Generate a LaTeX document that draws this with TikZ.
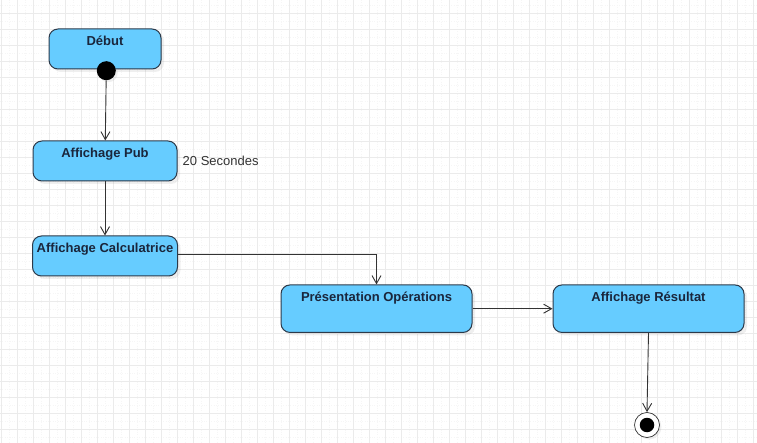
\documentclass[tikz,border=0pt]{standalone}
\usepackage{fontspec}
\setmainfont{Liberation Sans}
\usepackage{tikz}
\usetikzlibrary{arrows.meta,positioning,shadows}

\definecolor{actfill}{RGB}{102,204,255}
\definecolor{actdraw}{RGB}{44,58,74}
\definecolor{acttext}{RGB}{26,38,60}
\definecolor{gridc}{RGB}{235,235,235}
\definecolor{gridf}{RGB}{246,246,246}

\tikzset{
  act/.style={draw=actdraw, fill=actfill, line width=1pt, rounded corners=9pt,
    font=\fontsize{13}{15}\selectfont\bfseries, text=acttext,
    inner ysep=4pt, text height=12.5pt, text depth=19.5pt,
    drop shadow={opacity=0.12, shadow xshift=3pt, shadow yshift=-3pt}},
  flow/.style={->, draw=black!80, line width=0.9pt}
}

\begin{document}
\begin{tikzpicture}[x=1pt,y=-1pt,>={Straight Barb[length=8pt,width=9pt]},node distance=2cm]

\useasboundingbox (0,0) rectangle (757,443);
\fill[white] (0,0) rectangle (757,443);

% grid
\foreach \gx in {0,...,94} \draw[gridf, line width=0.4pt, dotted] (1.5+8*\gx,0) -- (1.5+8*\gx,443);
\foreach \gy in {-1,...,54} \draw[gridf, line width=0.4pt, dotted] (0,13+8*\gy) -- (757,13+8*\gy);
\foreach \gx in {0,...,47} \draw[gridc, line width=0.6pt] (1.5+16*\gx,0) -- (1.5+16*\gx,443);
\foreach \gy in {0,...,27} \draw[gridc, line width=0.6pt] (0,13+16*\gy) -- (757,13+16*\gy);

\node[act, minimum width=112pt] (Deb) at (105,49) {Début};
\node[act, minimum width=144pt] (Pub) [below=71pt of Deb] {Affichage Pub};
\node[act, minimum width=145pt] (Calc) [below=54pt of Pub] {Affichage Calculatrice};
\node[act, minimum width=191pt, text depth=27pt] (Pres) at (376.5,308.7) {Présentation Opérations};
\node[act, minimum width=191pt, text depth=27pt] (Res) [right=80pt of Pres] {Affichage Résultat};

\node[circle, fill=black, minimum size=19pt, inner sep=0pt,
      drop shadow={opacity=0.12, shadow xshift=2pt, shadow yshift=-2pt}] (Dot) at (106.3,70.7) {};
\node[circle, draw=black!80, fill=white, line width=0.7pt, minimum size=25pt, inner sep=0pt,
      drop shadow={opacity=0.12, shadow xshift=2pt, shadow yshift=-2pt}] (Fin) at (647,425) {};
\node[circle, fill=black, minimum size=14.5pt, inner sep=0pt] (FinDot) at (Fin) {};

\node[right=5pt of Pub, inner sep=0pt, font=\fontsize{13}{15}\selectfont, text=black!80] (Sec) {20 Secondes};

\path (Dot) edge[flow] (Pub)
      (Pub) edge[flow] (Calc);

\draw[flow] ([yshift=2pt]Calc.east) -| (Pres.north);

\path (Pres) edge[flow] (Res)
      (Res.south) edge[flow] (Fin.north);

\end{tikzpicture}
\end{document}
